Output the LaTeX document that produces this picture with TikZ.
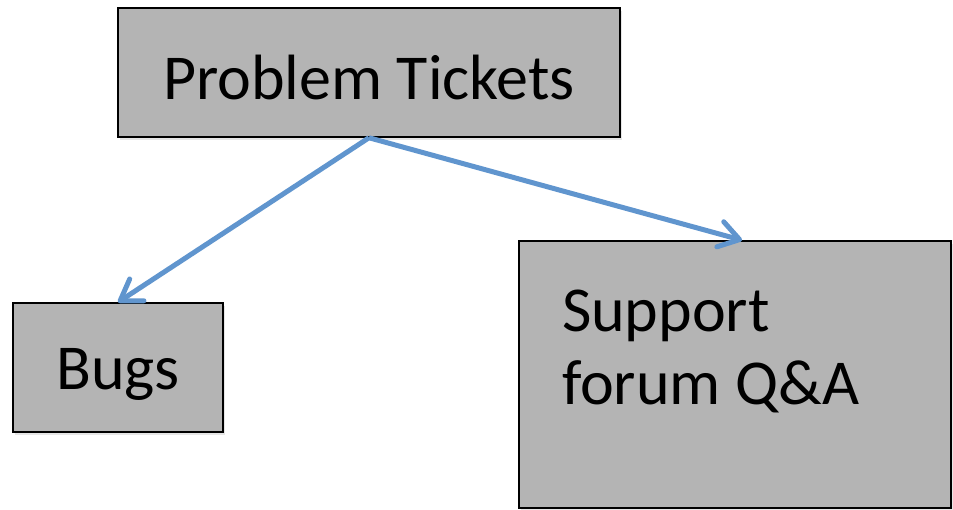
\documentclass[tikz,border=0pt]{standalone}
\usepackage{fontspec}
\setmainfont{Carlito}
\usetikzlibrary{arrows.meta}
\usetikzlibrary{shadows}

\definecolor{boxgray}{RGB}{180,180,180}
\definecolor{linkblue}{RGB}{96,149,206}

\begin{document}
\begin{tikzpicture}[x=1pt, y=-1pt] % one unit per pixel, y running downwards
    \tikzstyle{box}=[draw=black, line width=1.5pt, fill=boxgray, inner sep=0pt, font=\fontsize{64}{73}\selectfont, drop shadow={shadow xshift=2pt, shadow yshift=-3pt, opacity=0.2}]
    \tikzstyle{link}=[draw=linkblue, line width=5pt, -{Straight Barb[length=20pt, width=26pt, round]}]
    \useasboundingbox (0,0) rectangle (953,510);

    \node[box, minimum width=502pt, minimum height=129pt, text height=58pt, text depth=3pt] (tickets) at (369,72.5) {Problem Tickets};
    \node[box, minimum width=210pt, minimum height=129pt, text height=52pt, text depth=7pt] (bugs) at (118,367.5) {Bugs};
    \node[box, minimum width=432pt, minimum height=267pt, text width=346pt, align=flush left, text height=50pt, text depth=135pt] (forum) at (735,374.5) {Support\\forum Q\&A}; % text sits in the upper half

    % links from the top box down to the two kinds
    \draw[link] (tickets.south) -- (bugs.north);
    \draw[link] (tickets.south) -- ([xshift=7pt]forum.north);
\end{tikzpicture}
\end{document}
